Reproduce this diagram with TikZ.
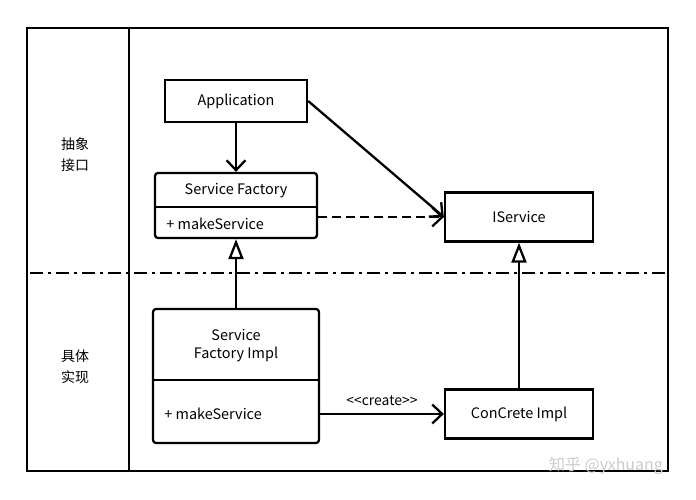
\documentclass[tikz,border=0pt]{standalone}
\usepackage{fontspec}
\newfontfamily\umlfont{Noto Sans CJK SC}
\usetikzlibrary{arrows.meta}

\begin{document}
\begin{tikzpicture}[x=1bp, y=-1bp, line width=2.3pt, text=black, draw=black,
    font=\umlfont\fontsize{14.5}{18}\selectfont,
    box/.style={draw, rectangle, inner sep=0pt},
    classbox/.style={box, rounded corners=3pt},
    open vee/.style={-{Straight Barb[length=10pt, width=19pt]}},
    generalise/.style={-{Triangle[open, length=20pt, width=15pt]}},
    lane/.style={font=\umlfont\fontsize{14}{21}\selectfont, align=center}]

  \useasboundingbox (0,0) rectangle (696,500);

  % Outer frame and the column for the layer names
  \draw (27,28) rectangle (668,471);
  \draw (129,28) -- (129,471);

  % Dash-dotted line between the two layers
  \draw[dash pattern=on 13pt off 5pt on 3pt off 5pt] (30,273) -- (665,273);

  % Layer names
  \node[lane] (abstract) at (75,155) {抽象\\接口};
  \node[lane] (concrete) at (75,367) {具体\\实现};

  % Upper layer: Application, Service Factory, IService
  \node[box, minimum width=142bp, minimum height=42bp] (app) at (236,101) {Application};
  \node[classbox, minimum width=162bp, minimum height=65bp] (sf) at (236,205.5) {};
  \draw (sf.west |- 0,207) -- (sf.east |- 0,207);
  \node (sftitle) at (236,191) {Service Factory};
  \node[anchor=west] (sfop) at (162,224) {+ makeService};
  \node[box, minimum width=148bp, minimum height=49bp] (is) at (519,217) {IService};

  % Lower layer: Service Factory Impl and ConCrete Impl
  \node[classbox, minimum width=166bp, minimum height=134bp] (sfi) at (236,376) {};
  \draw (sfi.west |- 0,380) -- (sfi.east |- 0,380);
  \node[align=center] (sfititle) at (236,346) {Service\\Factory Impl};
  \node[anchor=west] (sfiop) at (160,414) {+ makeService};
  \node[box, minimum width=148bp, minimum height=49bp] (ci) at (519,414) {ConCrete Impl};

  % Associations and dependencies
  \draw[open vee] (app) -- (sf);
  \draw[open vee] (app.east) -- (is.west);
  \draw[open vee, dash pattern=on 9pt off 5pt] (sf.east |- is.west) -- (is.west);
  \draw[open vee] (sfi.east |- ci.west) -- node[above=4bp, font=\umlfont\fontsize{14}{16}\selectfont] {<<create>>} (ci.west);

  % Generalisations
  \draw[generalise] (sfi) -- (sf);
  \draw[generalise] (ci) -- (is);

  % Watermark
  \node[text=gray!40, font=\umlfont\fontsize{16}{16}\selectfont] (mark) at (606,466) {知乎 @yxhuang};

\end{tikzpicture}
\end{document}
